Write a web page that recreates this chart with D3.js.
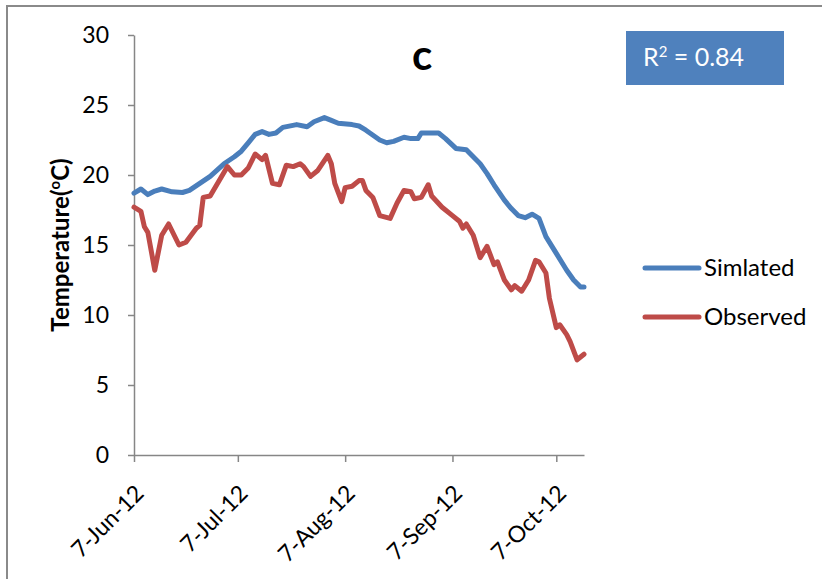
<!DOCTYPE html>
<html>
<head>
<meta charset="utf-8">
<script src="https://cdn.jsdelivr.net/npm/d3@7"></script>
<style>
  body { margin: 0; background: #fff; }
  svg text { font-family: Lato, "Open Sans", sans-serif; fill: #000; }
</style>
</head>
<body>
<script>
const simDates = ["2012-06-07","2012-06-09","2012-06-11","2012-06-13","2012-06-15","2012-06-18","2012-06-21","2012-06-23","2012-06-26","2012-06-29",
  "2012-07-03","2012-07-06","2012-07-08","2012-07-10","2012-07-12","2012-07-14","2012-07-16","2012-07-18","2012-07-20","2012-07-24",
  "2012-07-27","2012-07-29","2012-08-01","2012-08-03","2012-08-05","2012-08-09","2012-08-11","2012-08-13","2012-08-17","2012-08-19",
  "2012-08-21","2012-08-24","2012-08-26","2012-08-28","2012-08-29","2012-09-03","2012-09-05","2012-09-08","2012-09-11","2012-09-13",
  "2012-09-15","2012-09-17","2012-09-19","2012-09-22","2012-09-24","2012-09-26","2012-09-28","2012-09-30","2012-10-02","2012-10-04",
  "2012-10-07","2012-10-10","2012-10-12","2012-10-14","2012-10-15"];
const simTemps = [18.7,19.0,18.6,18.85,19.0,18.8,18.75,18.9,19.4,19.9,
  20.8,21.3,21.7,22.3,22.9,23.1,22.9,23.0,23.4,23.6,
  23.45,23.8,24.1,23.9,23.7,23.6,23.5,23.2,22.5,22.3,
  22.4,22.7,22.6,22.6,23.0,23.0,22.6,21.9,21.8,21.3,
  20.8,20.1,19.3,18.2,17.6,17.1,16.95,17.2,16.9,15.6,
  14.4,13.2,12.5,12.0,12.0];

const obsDates = ["2012-06-07","2012-06-09","2012-06-10","2012-06-11","2012-06-13","2012-06-15","2012-06-17","2012-06-20","2012-06-22","2012-06-25",
  "2012-06-26","2012-06-27","2012-06-29","2012-07-04","2012-07-06","2012-07-08","2012-07-10","2012-07-12","2012-07-14","2012-07-15",
  "2012-07-17","2012-07-19","2012-07-21","2012-07-23","2012-07-25","2012-07-26","2012-07-28","2012-07-30","2012-08-02","2012-08-03",
  "2012-08-04","2012-08-06","2012-08-07","2012-08-09","2012-08-11","2012-08-12","2012-08-13","2012-08-15","2012-08-17","2012-08-20",
  "2012-08-22","2012-08-24","2012-08-26","2012-08-27","2012-08-29","2012-08-31","2012-09-01","2012-09-04","2012-09-07","2012-09-09",
  "2012-09-10","2012-09-11","2012-09-13","2012-09-15","2012-09-17","2012-09-19","2012-09-20","2012-09-22","2012-09-24","2012-09-25",
  "2012-09-27","2012-09-29","2012-10-01","2012-10-02","2012-10-04","2012-10-05","2012-10-07","2012-10-08","2012-10-10","2012-10-11",
  "2012-10-13","2012-10-15"];
const obsTemps = [17.7,17.4,16.3,15.9,13.2,15.7,16.5,15.0,15.2,16.2,
  16.4,18.4,18.5,20.6,20.0,20.0,20.5,21.5,21.1,21.4,
  19.4,19.3,20.7,20.6,20.8,20.6,19.9,20.3,21.4,20.8,
  19.4,18.1,19.1,19.2,19.6,19.6,18.9,18.4,17.1,16.9,
  18.0,18.9,18.8,18.3,18.4,19.3,18.5,17.7,17.1,16.7,
  16.2,16.5,15.7,14.1,14.9,13.6,13.8,12.5,11.8,12.1,
  11.7,12.5,13.9,13.8,13.0,11.2,9.1,9.3,8.6,8.1,
  6.8,7.2];

const xTicks = ["2012-06-07","2012-07-07","2012-08-07","2012-09-07","2012-10-07"];
const yTicks = [0, 5, 10, 15, 20, 25, 30];
const seriesNames = ["Simlated", "Observed"];
const colors = ["#4a7ebb", "#be4b48"];

const width = 822, height = 579;
const parse = d3.timeParse("%Y-%m-%d");

const series = [
  simDates.map((d, i) => ({date: parse(d), value: simTemps[i]})),
  obsDates.map((d, i) => ({date: parse(d), value: obsTemps[i]}))
];

const svg = d3.select("body").append("svg")
  .attr("width", width)
  .attr("height", height);

svg.append("rect").attr("width", width).attr("height", height).attr("fill", "#fff");

// outer chart frame (only top and left visible in the crop)
svg.append("path")
  .attr("d", `M7,${height} V6 H${width}`)
  .attr("fill", "none")
  .attr("stroke", "#8a8a8a")
  .attr("stroke-width", 2);

const x = d3.scaleTime()
  .domain([parse("2012-06-07"), parse("2012-10-15")])
  .range([134, 584]);

const y = d3.scaleLinear()
  .domain([0, 30])
  .range([455, 35]);

const axisColor = "#868686";

const gy = svg.append("g")
  .attr("transform", `translate(${x.range()[0]},0)`)
  .call(d3.axisLeft(y).tickValues(yTicks).tickSize(6).tickSizeOuter(0).tickPadding(19));

const gx = svg.append("g")
  .attr("transform", `translate(0,${y(0)})`)
  .call(d3.axisBottom(x)
    .tickValues(xTicks.map(parse))
    .tickFormat(d3.timeFormat("%-d-%b-%y"))
    .tickSize(7).tickSizeOuter(0));

[gx, gy].forEach(g => {
  g.selectAll("path, line").attr("stroke", axisColor).attr("stroke-width", 1.5);
  g.selectAll("text").attr("font-size", 23).attr("font-family", "Lato, sans-serif").attr("fill", "#000");
});

gx.selectAll("text")
  .attr("text-anchor", "end")
  .attr("dy", "0.35em")
  .attr("transform", "translate(-2,27) rotate(-45)");

// lines
const line = d3.line()
  .x(d => x(d.date))
  .y(d => y(d.value));

svg.selectAll(".series")
  .data(series)
  .join("path")
    .attr("class", "series")
    .attr("d", line)
    .attr("fill", "none")
    .attr("stroke", (d, i) => colors[i])
    .attr("stroke-width", 5)
    .attr("stroke-linejoin", "round")
    .attr("stroke-linecap", "round");

// y label
const yl = svg.append("text")
  .attr("transform", "translate(69,245) rotate(-90)")
  .attr("text-anchor", "middle")
  .attr("font-size", 24)
  .attr("font-weight", "bold");
yl.append("tspan").text("Temperature(");
yl.append("tspan").text("o").attr("font-size", 15).attr("baseline-shift", "super");
yl.append("tspan").text("C)");

// panel title
svg.append("text")
  .attr("x", 422)
  .attr("y", 70)
  .attr("text-anchor", "middle")
  .attr("font-size", 42)
  .attr("font-weight", "bold")
  .text("c");

// R² box
svg.append("rect")
  .attr("x", 626).attr("y", 31)
  .attr("width", 158).attr("height", 54)
  .attr("fill", "#4f81bd");
const r2 = svg.append("text")
  .attr("x", 643).attr("y", 66)
  .attr("font-size", 25)
  .style("fill", "#fff");
r2.append("tspan").text("R").style("fill", "#fff");
r2.append("tspan").text("2").attr("font-size", 15).attr("baseline-shift", "super").style("fill", "#fff");
r2.append("tspan").text(" = 0.84").style("fill", "#fff");

// legend
const legend = svg.selectAll(".legend")
  .data(seriesNames)
  .join("g")
    .attr("class", "legend")
    .attr("transform", (d, i) => `translate(645,${268 + i * 49})`);
legend.append("line")
  .attr("x1", 0).attr("x2", 54)
  .attr("stroke", (d, i) => colors[i])
  .attr("stroke-width", 5)
  .attr("stroke-linecap", "round");
legend.append("text")
  .attr("x", 59)
  .attr("dy", "0.35em")
  .attr("font-size", 24)
  .text(d => d);
</script>
</body>
</html>
